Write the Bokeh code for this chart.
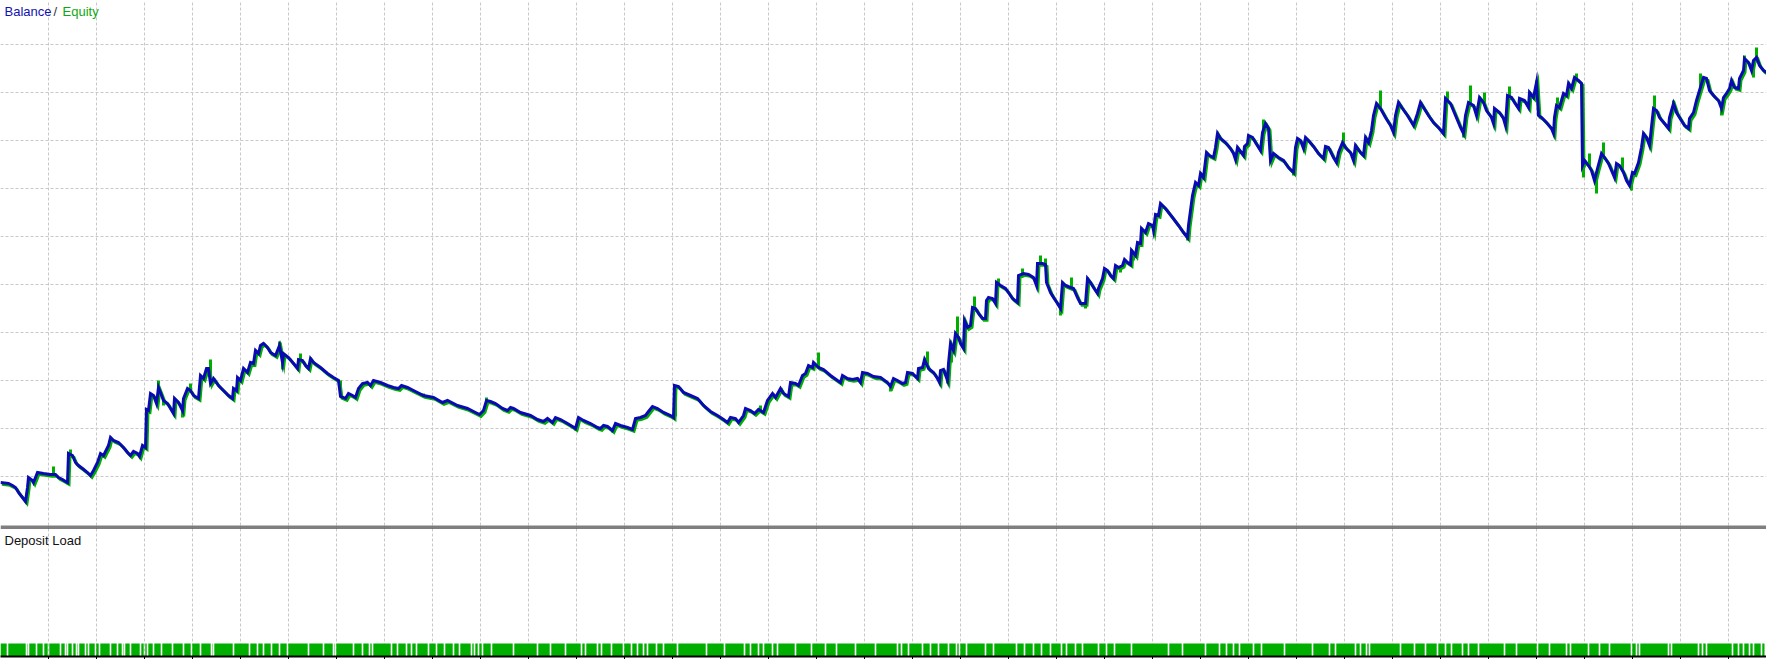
import numpy as np
from bokeh.plotting import figure
from bokeh.layouts import column
from bokeh.models import (Range1d, Grid, FixedTicker, Label, ColumnDataSource,
                          CustomJSTickFormatter)
from bokeh.transform import dodge
from bokeh.embed import file_html
from bokeh.resources import INLINE

# ---------------- data (time axis in chart units, balance in account currency) ----
bal_x = [0, 8, 12, 15, 18, 22, 25, 27, 28, 32, 33, 37, 43, 50, 55, 58, 62, 65, 67, 68,
         72, 75, 78, 82, 87, 90, 93, 97, 100, 103, 108, 110, 113, 118, 123, 127, 130, 133, 137, 139,
         142, 145, 146, 148, 150, 153, 156, 158, 160, 163, 167, 170, 173, 174, 178, 182, 183, 187, 190, 193,
         198, 200, 203, 206, 208, 210, 213, 218, 223, 228, 232, 233, 236, 237, 240, 243, 247, 250, 253, 255,
         258, 260, 263, 267, 270, 275, 279, 282, 283, 288, 293, 297, 298, 302, 305, 308, 310, 313, 320, 327,
         333, 338, 340, 345, 348, 352, 355, 358, 362, 367, 370, 373, 380, 387, 393, 398, 401, 407, 413, 423,
         433, 442, 447, 457, 467, 475, 479, 483, 486, 490, 495, 502, 507, 510, 513, 520, 530, 537, 543, 547,
         552, 555, 560, 567, 572, 575, 578, 583, 590, 597, 600, 603, 607, 612, 615, 620, 627, 632, 635, 640,
         645, 648, 652, 657, 663, 670, 673, 674, 678, 683, 690, 697, 703, 710, 717, 723, 727, 730, 735, 738,
         743, 745, 750, 754, 758, 763, 767, 772, 775, 780, 783, 788, 790, 795, 798, 802, 805, 808, 812, 813,
         818, 823, 830, 837, 840, 842, 847, 852, 857, 860, 862, 867, 873, 880, 887, 890, 893, 897, 902, 905,
         907, 912, 917, 918, 922, 924, 928, 933, 937, 939, 940, 943, 947, 948, 950, 953, 955, 958, 960, 963,
         964, 967, 970, 972, 975, 978, 982, 985, 986, 988, 992, 995, 996, 1000, 1005, 1008, 1012, 1017, 1018, 1023,
         1028, 1033, 1036, 1037, 1042, 1045, 1046, 1048, 1050, 1053, 1057, 1060, 1062, 1065, 1070, 1073, 1077, 1080, 1085, 1087,
         1090, 1093, 1097, 1098, 1102, 1104, 1107, 1110, 1113, 1115, 1118, 1122, 1124, 1127, 1130, 1131, 1135, 1137, 1140, 1141,
         1145, 1148, 1152, 1153, 1155, 1158, 1160, 1165, 1172, 1178, 1183, 1187, 1188, 1190, 1192, 1195, 1198, 1200, 1203, 1206,
         1209, 1213, 1215, 1217, 1220, 1225, 1230, 1233, 1235, 1237, 1240, 1243, 1244, 1247, 1248, 1252, 1255, 1260, 1262, 1265,
         1268, 1270, 1273, 1278, 1283, 1288, 1293, 1295, 1297, 1300, 1303, 1305, 1308, 1313, 1318, 1323, 1325, 1328, 1333, 1336,
         1338, 1342, 1345, 1350, 1353, 1355, 1360, 1363, 1365, 1368, 1371, 1373, 1376, 1380, 1385, 1390, 1393, 1395, 1398, 1402,
         1407, 1413, 1417, 1420, 1423, 1428, 1433, 1438, 1443, 1445, 1450, 1455, 1460, 1463, 1465, 1468, 1473, 1476, 1479, 1483,
         1486, 1491, 1493, 1494, 1499, 1503, 1505, 1507, 1511, 1514, 1518, 1519, 1524, 1528, 1529, 1533, 1536, 1538, 1541, 1546,
         1551, 1553, 1554, 1556, 1559, 1563, 1566, 1568, 1571, 1574, 1578, 1581, 1582, 1584, 1588, 1591, 1594, 1597, 1601, 1604,
         1608, 1611, 1614, 1616, 1619, 1623, 1626, 1629, 1632, 1634, 1638, 1641, 1643, 1646, 1649, 1653, 1656, 1659, 1664, 1668,
         1669, 1673, 1676, 1679, 1684, 1688, 1689, 1693, 1696, 1699, 1703, 1706, 1709, 1713, 1718, 1721, 1723, 1726, 1729, 1731,
         1734, 1738, 1739, 1743, 1744, 1748, 1751, 1753, 1756, 1759, 1763, 1766]

balance = [9940, 9930, 9910, 9890, 9840, 9790, 9750, 9890, 9990, 9960, 9940, 10040, 10030, 10020, 10020, 9990, 9970, 9950, 9940, 10230,
           10210, 10140, 10110, 10080, 10040, 10010, 10060, 10140, 10230, 10210, 10310, 10390, 10360, 10340, 10290, 10240, 10210, 10250, 10230, 10200,
           10310, 10290, 10670, 10660, 10830, 10810, 10730, 10890, 10840, 10760, 10730, 10680, 10630, 10780, 10740, 10660, 10780, 10880, 10860, 10810,
           10780, 11010, 10980, 11080, 11080, 10930, 10980, 10910, 10860, 10810, 10780, 10880, 10860, 10990, 10960, 11080, 11040, 11140, 11130, 11260,
           11230, 11310, 11330, 11290, 11240, 11210, 11310, 11140, 11230, 11190, 11130, 11080, 11170, 11160, 11110, 11080, 11180, 11140, 11090, 11030,
           10990, 10960, 10800, 10780, 10830, 10810, 10790, 10880, 10930, 10940, 10910, 10960, 10940, 10910, 10890, 10880, 10910, 10890, 10860, 10810,
           10790, 10740, 10760, 10710, 10680, 10640, 10620, 10660, 10760, 10750, 10730, 10680, 10660, 10690, 10680, 10640, 10610, 10570, 10550, 10580,
           10540, 10590, 10570, 10530, 10500, 10480, 10590, 10560, 10530, 10490, 10480, 10510, 10500, 10460, 10530, 10510, 10490, 10470, 10580, 10590,
           10610, 10650, 10700, 10680, 10640, 10610, 10590, 10910, 10900, 10840, 10810, 10780, 10710, 10650, 10610, 10570, 10540, 10590, 10580, 10540,
           10610, 10680, 10660, 10630, 10670, 10640, 10760, 10830, 10790, 10880, 10830, 10800, 10940, 10930, 10910, 11010, 11030, 11110, 11090, 11140,
           11090, 11070, 11010, 10960, 10940, 11010, 10980, 10970, 10980, 10940, 11040, 11030, 11000, 10990, 10940, 10900, 10980, 10960, 10930, 10940,
           11040, 11030, 10980, 11080, 11090, 11170, 11080, 11040, 10980, 10940, 11060, 11070, 10960, 11130, 11330, 11260, 11430, 11390, 11330, 11280,
           11560, 11490, 11510, 11690, 11680, 11630, 11580, 11580, 11760, 11790, 11780, 11730, 11940, 11910, 11880, 11840, 11780, 11740, 12010, 12030,
           12020, 11990, 11910, 12130, 12130, 12120, 11940, 11890, 11840, 11790, 11730, 11680, 11940, 11910, 11890, 11880, 11790, 11730, 11730, 11980,
           11940, 11890, 11830, 11880, 11980, 12080, 12060, 12010, 11980, 12110, 12090, 12110, 12170, 12140, 12120, 12260, 12210, 12340, 12330, 12480,
           12440, 12530, 12510, 12460, 12620, 12610, 12730, 12680, 12590, 12510, 12440, 12390, 12510, 12660, 12810, 12940, 12910, 13030, 12990, 13240,
           13210, 13190, 13290, 13430, 13380, 13340, 13280, 13230, 13170, 13290, 13250, 13210, 13300, 13330, 13410, 13390, 13340, 13260, 13440, 13530,
           13480, 13160, 13230, 13190, 13160, 13090, 13040, 13290, 13380, 13360, 13280, 13390, 13360, 13300, 13230, 13180, 13300, 13290, 13190, 13140,
           13240, 13340, 13290, 13240, 13160, 13310, 13240, 13210, 13390, 13340, 13460, 13610, 13730, 13680, 13590, 13510, 13440, 13610, 13740, 13680,
           13610, 13510, 13630, 13740, 13690, 13610, 13540, 13490, 13430, 13780, 13730, 13610, 13490, 13430, 13610, 13740, 13710, 13610, 13790, 13740,
           13660, 13590, 13530, 13680, 13640, 13580, 13510, 13810, 13790, 13740, 13680, 13780, 13760, 13690, 13840, 13790, 13940, 13610, 13590, 13540,
           13480, 13430, 13590, 13710, 13690, 13830, 13810, 13930, 13880, 13990, 13960, 13930, 13110, 13160, 13110, 13060, 12960, 13080, 13230, 13190,
           13130, 13060, 12990, 13130, 13110, 13040, 12960, 12910, 13040, 13030, 13140, 13290, 13430, 13390, 13310, 13680, 13660, 13590, 13530, 13480,
           13590, 13730, 13640, 13590, 13510, 13480, 13580, 13640, 13760, 13860, 13990, 13980, 13860, 13810, 13760, 13680, 13790, 13830, 13880, 13960,
           13890, 13880, 13980, 14060, 14180, 14140, 14060, 14160, 14190, 14110, 14060, 14040]

# equity excursions away from the balance line (floating profit / loss extremes)
equity_x = [53, 70, 146, 158, 163, 182, 190, 210, 279, 282, 300, 340, 423, 486, 575, 612, 675, 760, 818, 890,
            927, 947, 951, 957, 974, 998, 1022, 1040, 1045, 1060, 1071, 1085, 1120, 1133, 1187, 1263, 1293, 1343, 1380, 1447,
            1463, 1470, 1484, 1509, 1536, 1557, 1576, 1583, 1589, 1596, 1603, 1622, 1631, 1654, 1673, 1700, 1721, 1744, 1756, 1753]
equity = [10100, 10270, 10580, 10960, 10710, 10590, 10930, 11170, 11350, 11070, 11230, 10960, 10830, 10790, 10460, 10440, 10600, 10710, 11240, 10850,
          11250, 10930, 11140, 11600, 11800, 11980, 12080, 12210, 12180, 11610, 11990, 11680, 12040, 12160, 12360, 13570, 13010, 13440, 13860, 13850,
          13390, 13910, 13840, 13900, 13960, 13790, 14030, 12990, 13230, 12830, 13340, 13190, 12860, 13810, 13760, 14030, 13610, 14210, 14290, 13990]

# deposit load: times where no position was open (gaps in the histogram)
load_gaps = [7, 26, 28, 36, 43, 48, 60, 65, 67, 72, 76, 78, 85, 88, 95, 99, 110, 117, 122, 124,
             130, 140, 144, 147, 153, 161, 172, 183, 191, 200, 211, 213, 233, 249, 257, 263, 271, 279, 287, 308,
             323, 333, 335, 353, 362, 369, 372, 391, 397, 406, 411, 416, 428, 436, 444, 453, 459, 471, 474, 478,
             482, 491, 513, 537, 550, 565, 581, 585, 597, 601, 611, 623, 631, 637, 643, 647, 656, 663, 677, 706,
             724, 744, 750, 758, 763, 772, 777, 795, 811, 825, 836, 855, 875, 897, 901, 908, 922, 930, 938, 948,
             956, 959, 966, 985, 993, 1016, 1024, 1033, 1041, 1050, 1061, 1066, 1075, 1082, 1098, 1106, 1114, 1131, 1168, 1182,
             1205, 1219, 1226, 1233, 1239, 1253, 1261, 1284, 1312, 1329, 1335, 1355, 1360, 1366, 1369, 1400, 1414, 1425, 1437, 1445,
             1451, 1462, 1468, 1478, 1504, 1516, 1537, 1549, 1566, 1570, 1588, 1599, 1609, 1631, 1636, 1639, 1668, 1671, 1698, 1702,
             1706, 1732, 1738, 1743, 1749, 1753, 1761]
load_start = 0
load_end = 1764
load_pct = 10

# ---------------- styling ----------------
BLUE = "#0A0AB2"
GREEN = "#00AE00"
GRID = "#C8C8C8"
FONT = "Liberation Sans"
W = 1766
BOT_FRAME = 131

x_ticks = list(range(48, 1766, 48))
y_ticks = list(range(10000, 14800, 480))

xr = Range1d(0, 1766)

top = figure(frame_width=W, frame_height=525, x_range=xr, y_range=Range1d(9510, 14760),
             output_backend="svg", toolbar_location=None,
             x_axis_location=None, y_axis_location=None, min_border=0,
             outline_line_color=None, background_fill_color="white", border_fill_color="white")
top.center = [c for c in top.center if not isinstance(c, Grid)]
top.add_layout(Grid(dimension=0, ticker=FixedTicker(ticks=x_ticks), grid_line_color=GRID,
                    grid_line_dash="3 2", grid_line_width=1))
top.add_layout(Grid(dimension=1, ticker=FixedTicker(ticks=y_ticks), grid_line_color=GRID,
                    grid_line_dash="3 2", grid_line_width=1))

src = ColumnDataSource(dict(x=bal_x, v=balance))
# equity line (runs just under the balance line)
top.line(x=dodge("x", 1.5, range=top.x_range), y=dodge("v", -18, range=top.y_range),
         source=src, line_color=GREEN, line_width=3, line_join="miter")
eq_base = np.interp(equity_x, bal_x, balance)
top.segment(x0=equity_x, y0=eq_base, x1=equity_x, y1=equity, line_color=GREEN, line_width=3)
# balance line
top.line(x="x", y="v", source=src, line_color=BLUE, line_width=3, line_join="miter")

top.add_layout(Label(x=4, y=14725, text="Balance", text_baseline="top", text_font=FONT,
                     text_font_size="13px", text_color="#1212B4"))
top.add_layout(Label(x=53, y=14725, text="/", text_baseline="top", text_font=FONT,
                     text_font_size="13px", text_color="#333333"))
top.add_layout(Label(x=62, y=14725, text="Equity", text_baseline="top", text_font=FONT,
                     text_font_size="13px", text_color="#10A810"))

bot = figure(frame_width=W, frame_height=BOT_FRAME, x_range=xr, y_range=Range1d(0, 100),
             output_backend="svg", toolbar_location=None, y_axis_location=None,
             min_border=0, outline_line_color=None,
             background_fill_color="white", border_fill_color="white")
bot.center = [c for c in bot.center if not isinstance(c, Grid)]
bot.add_layout(Grid(dimension=0, ticker=FixedTicker(ticks=x_ticks), grid_line_color=GRID,
                    grid_line_dash="3 2", grid_line_width=1))
ax = bot.xaxis[0]
ax.ticker = FixedTicker(ticks=x_ticks)
ax.formatter = CustomJSTickFormatter(code="return ''")
ax.axis_line_color = "black"
ax.axis_line_width = 2
ax.major_tick_in = 0
ax.major_tick_out = 3
ax.major_tick_line_color = "black"
ax.minor_tick_line_color = None
ax.major_label_text_font_size = "1px"
ax.major_label_standoff = 0

g = np.array(load_gaps, dtype=float)
lefts = np.concatenate([[load_start], g + 0.8])
rights = np.concatenate([g - 0.8, [load_end]])
bot.quad(left=lefts, right=rights, bottom=0, top=load_pct, fill_color=GREEN, line_color=None)

# double separator rule between the two panes (one pixel row each, one row apart)
row = 100.0 / BOT_FRAME
bot.quad(left=[0, 0], right=[1766, 1766], top=[100, 100 - 2 * row],
         bottom=[100 - row, 100 - 3 * row], fill_color="black", line_color=None)
bot.add_layout(Label(x=4, y=94.3, text="Deposit Load", text_baseline="top", text_font=FONT,
                     text_font_size="13px", text_color="#111111"))

layout = column(top, bot, spacing=0)
open("out.html", "w").write(file_html(layout, INLINE))
